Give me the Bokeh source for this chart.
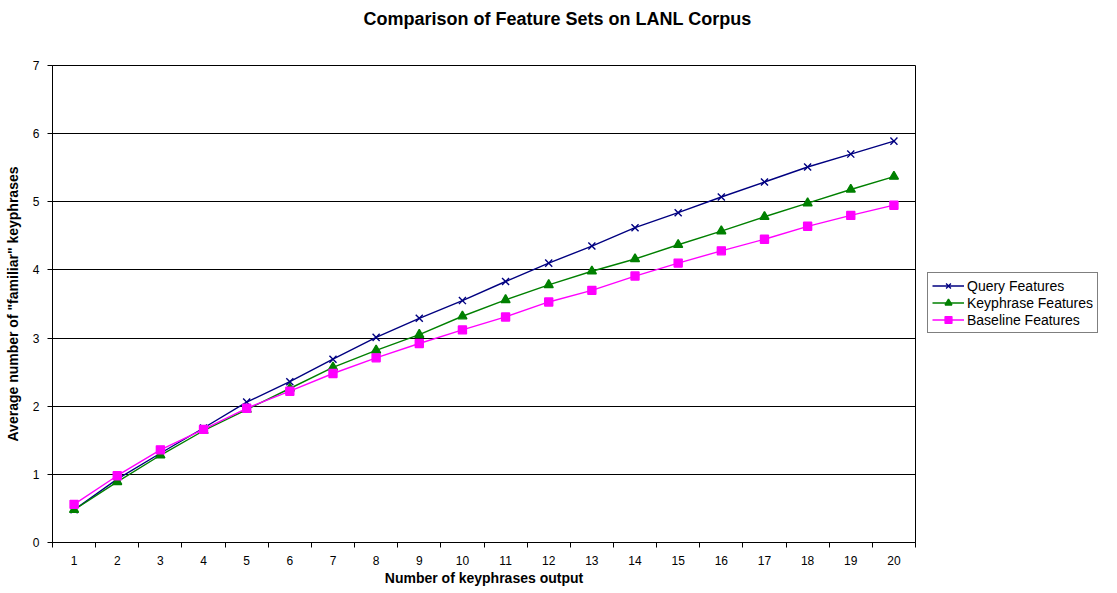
from bokeh.plotting import figure
from bokeh.models import FixedTicker, Range1d, Legend, LegendItem, Title
from bokeh.embed import file_html
from bokeh.resources import INLINE

x_values = list(range(1, 21))
x_labels = [str(v) for v in x_values]
query = [0.48, 0.93, 1.31, 1.68, 2.06, 2.36, 2.69, 3.01, 3.29, 3.55,
         3.83, 4.10, 4.35, 4.62, 4.84, 5.07, 5.29, 5.51, 5.70, 5.89]
keyphrase = [0.48, 0.89, 1.28, 1.64, 1.95, 2.26, 2.57, 2.82, 3.05, 3.32,
             3.56, 3.78, 3.98, 4.16, 4.37, 4.57, 4.78, 4.98, 5.18, 5.37]
baseline = [0.56, 0.98, 1.36, 1.66, 1.97, 2.22, 2.48, 2.71, 2.92, 3.12,
            3.31, 3.53, 3.70, 3.91, 4.10, 4.28, 4.45, 4.64, 4.80, 4.95]
y_ticks = [0, 1, 2, 3, 4, 5, 6, 7]

FONT = "Liberation Sans"

p = figure(frame_width=863, frame_height=477, output_backend="svg",
           toolbar_location=None, title=None,
           x_range=Range1d(0.5, 20.5), y_range=Range1d(0, 7),
           min_border_left=52, min_border_right=202, min_border_top=65,
           min_border_bottom=40)

# spacer between frame and title (first "above" item sits next to the frame)
spacer = Title(text=" ", text_font_size="2px", standoff=27)
p.add_layout(spacer, "above")
title = Title(text="Comparison of Feature Sets on LANL Corpus",
              align="left", offset=311, standoff=12,
              text_font=FONT, text_font_size="18px",
              text_font_style="bold", text_color="black")
p.add_layout(title, "above")

p.outline_line_color = "black"
p.outline_line_width = 1
p.background_fill_color = "white"
p.border_fill_color = "white"

# x axis: labels at category centres, tick marks between categories
p.xaxis.ticker = FixedTicker(ticks=x_values,
                             minor_ticks=[v - 0.5 for v in x_values] + [20.5])
p.xaxis.major_label_overrides = {v: l for v, l in zip(x_values, x_labels)}
p.xaxis.major_tick_line_color = None
p.xaxis.major_tick_out = 5
p.xaxis.major_tick_in = 0
p.xaxis.minor_tick_line_color = "black"
p.xaxis.minor_tick_out = 5
p.xaxis.minor_tick_in = 0
p.xaxis.axis_line_color = "black"
p.xaxis.major_label_text_font = FONT
p.xaxis.major_label_text_font_size = "12px"
p.xaxis.major_label_text_color = "black"
p.xaxis.major_label_standoff = 8
p.xaxis.axis_label = "Number of keyphrases output"
p.xaxis.axis_label_text_font = FONT
p.xaxis.axis_label_text_font_size = "14px"
p.xaxis.axis_label_text_font_style = "bold"
p.xaxis.axis_label_text_color = "black"
p.xaxis.axis_label_standoff = 2

p.yaxis.ticker = FixedTicker(ticks=y_ticks)
p.yaxis.major_tick_out = 5
p.yaxis.major_tick_in = 0
p.yaxis.minor_tick_line_color = None
p.yaxis.axis_line_color = "black"
p.yaxis.major_tick_line_color = "black"
p.yaxis.major_label_text_font = FONT
p.yaxis.major_label_text_font_size = "12px"
p.yaxis.major_label_text_color = "black"
p.yaxis.major_label_standoff = 8
p.yaxis.axis_label = 'Average number of "familiar" keyphrases'
p.yaxis.axis_label_text_font = FONT
p.yaxis.axis_label_text_font_size = "14px"
p.yaxis.axis_label_text_font_style = "bold"
p.yaxis.axis_label_text_color = "black"
p.yaxis.axis_label_standoff = 9

p.xgrid.grid_line_color = None
p.ygrid.grid_line_color = "black"
p.ygrid.grid_line_width = 1

series = [
    ("Query Features", query, "#000080", "x", 10),
    ("Keyphrase Features", keyphrase, "#008000", "triangle", 9),
    ("Baseline Features", baseline, "#FF00FF", "square", 8),
]
items = []
for name, ys, col, mk, sz in series:
    ln = p.line(x_values, ys, line_color=col, line_width=1.4)
    sc = p.scatter(x_values, ys, marker=mk, size=sz, line_color=col,
                   fill_color=col, line_width=1.4)
    items.append(LegendItem(label=name, renderers=[ln, sc]))

legend = Legend(items=items, location=(12, 209))
legend.border_line_color = "black"
legend.border_line_width = 1
legend.background_fill_color = "white"
legend.background_fill_alpha = 1
legend.label_text_font = FONT
legend.label_text_font_size = "14px"
legend.label_text_color = "black"
legend.glyph_width = 32
legend.glyph_height = 17
legend.label_height = 17
legend.label_standoff = 3
legend.spacing = 0
legend.padding = 4
legend.margin = 0
p.add_layout(legend, "right")

open("out.html", "w").write(file_html(p, INLINE))
